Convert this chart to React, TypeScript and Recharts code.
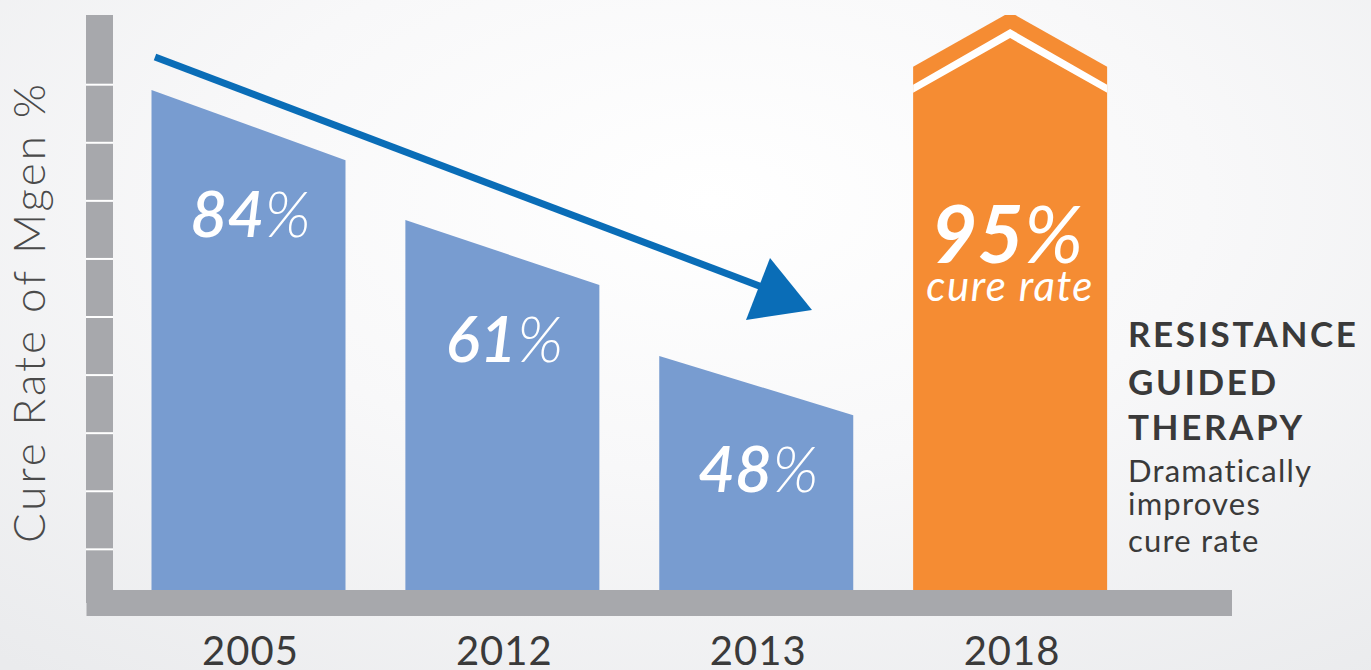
import { Bar, ComposedChart, Customized, XAxis, YAxis } from "recharts";

const YEARS = ["2005", "2012", "2013", "2018"];
const CURE_RATES = [84, 61, 48, 95];
// top edge of each bar (left / right end, in axis units)
const LEFT_EDGE = [86.1, 63.7, 40.3, 90.1];
const RIGHT_EDGE = [74.0, 52.5, 30.1, 90.1];
const PEAK = [0, 0, 0, 99.5];
const GRID_TICKS = [7, 17, 27, 37, 47, 57, 67, 77, 87];

const DATA = YEARS.map((year, i) => ({
  year,
  rate: CURE_RATES[i],
  left: LEFT_EDGE[i],
  right: RIGHT_EDGE[i],
  peak: PEAK[i],
}));

const BLUE = "#789cd0";
const ORANGE = "#f58c33";
const GRAY = "#a7a8ac";
const ARROW = "#0a6db7";
const TEXT = "#3a3a3a";
const FONT = "Lato, 'Open Sans', sans-serif";

function SlantBar(props: any) {
  const { x, y, width, height, payload } = props;
  const base = y + height;
  const unit = height / payload.left;
  const cx = x + width / 2;

  if (payload.peak) {
    const py = base - payload.peak * unit;
    return (
      <g>
        <polygon
          points={`${x},${base} ${x},${y} ${cx},${py} ${x + width},${y} ${x + width},${base}`}
          fill={ORANGE}
        />
        <polygon
          points={`${x},${y + 18} ${cx},${py + 17} ${x + width},${y + 18} ${x + width},${y + 26} ${cx},${py + 26} ${x},${y + 26}`}
          fill="#fff"
        />
        <text
          x={cx - 3}
          y={y + 196}
          textAnchor="middle"
          fill="#fff"
          fontFamily={FONT}
          fontStyle="italic"
          fontSize={80}
        >
          <tspan fontWeight={700}>{payload.rate}</tspan>
          <tspan fontWeight={400}>%</tspan>
        </text>
        <text
          x={cx}
          y={y + 234}
          textAnchor="middle"
          fill="#fff"
          fontFamily={FONT}
          fontStyle="italic"
          fontSize={42}
          letterSpacing={1.5}
        >
          cure rate
        </text>
      </g>
    );
  }

  const ry = base - payload.right * unit;
  return (
    <g>
      <polygon
        points={`${x},${base} ${x},${y} ${x + width},${ry} ${x + width},${base}`}
        fill={BLUE}
      />
      <text
        x={cx + 2}
        y={ry + 77}
        textAnchor="middle"
        fill="#fff"
        fontFamily={FONT}
        fontStyle="italic"
        fontSize={64}
      >
        <tspan fontWeight={600}>{payload.rate}</tspan>
        <tspan fontWeight={300}>%</tspan>
      </text>
    </g>
  );
}

function GridTick(props: any) {
  const { x, y } = props;
  return <line x1={x - 13.5} x2={x + 13.5} y1={y} y2={y} stroke="#fff" strokeWidth={2} />;
}

function YearTick(props: any) {
  const { x, y, payload } = props;
  return (
    <text
      x={x + 2}
      y={y + 62}
      textAnchor="middle"
      fill={TEXT}
      fontFamily={FONT}
      fontSize={40}
      letterSpacing={1}
    >
      {payload.value}
    </text>
  );
}

function AxisTitle() {
  return (
    <text
      x={45}
      y={312}
      transform="rotate(-90 45 312)"
      textAnchor="middle"
      fill="#4a4a4a"
      fontFamily={FONT}
      fontWeight={300}
      fontSize={44}
      letterSpacing={3}
    >
      Cure Rate of Mgen %
    </text>
  );
}

function Annotations() {
  return (
    <g>
      <line x1={155} y1={57} x2={778} y2={293} stroke={ARROW} strokeWidth={7} />
      <polygon points="770,258 812,310 746,320" fill={ARROW} />
      <g fontFamily={FONT} fill={TEXT}>
        <text x={1128} y={347} fontSize={35} fontWeight={700} letterSpacing={2.6}>RESISTANCE</text>
        <text x={1128} y={395} fontSize={35} fontWeight={700} letterSpacing={2.6}>GUIDED</text>
        <text x={1128} y={440} fontSize={35} fontWeight={700} letterSpacing={2.6}>THERAPY</text>
        <text x={1128} y={482} fontSize={31} letterSpacing={1.2}>Dramatically</text>
        <text x={1128} y={515} fontSize={31} letterSpacing={1.2}>improves</text>
        <text x={1128} y={552} fontSize={31} letterSpacing={1.2}>cure rate</text>
      </g>
    </g>
  );
}

export default function App() {
  return (
    <div
      style={{
        position: "absolute",
        top: 0,
        left: 0,
        width: 1371,
        height: 670,
        background:
          "radial-gradient(ellipse 80% 90% at 52% 30%, #ffffff 0%, #f8f8f9 45%, #eaebed 100%)",
      }}
    >
      <ComposedChart
        width={1371}
        height={670}
        data={DATA}
        margin={{ top: 15, right: 152, bottom: 0, left: 0 }}
      >
        <XAxis
          dataKey="year"
          height={67}
          axisLine={{ stroke: GRAY, strokeWidth: 26, strokeLinecap: "square" }}
          tickLine={false}
          tickSize={0}
          tickMargin={0}
          padding={{ left: 22, right: 82 }}
          tick={<YearTick />}
          interval={0}
        />
        <YAxis
          type="number"
          domain={[-2.24, 99]}
          allowDataOverflow
          width={99.5}
          ticks={GRID_TICKS}
          axisLine={{ stroke: GRAY, strokeWidth: 27 }}
          tickLine={false}
          tickSize={0}
          tickMargin={0}
          tick={<GridTick />}
          label={{ content: <AxisTitle /> }}
        />
        <Bar dataKey="left" barSize={194} shape={<SlantBar />} isAnimationActive={false} />
        <Customized component={<Annotations />} />
      </ComposedChart>
    </div>
  );
}
